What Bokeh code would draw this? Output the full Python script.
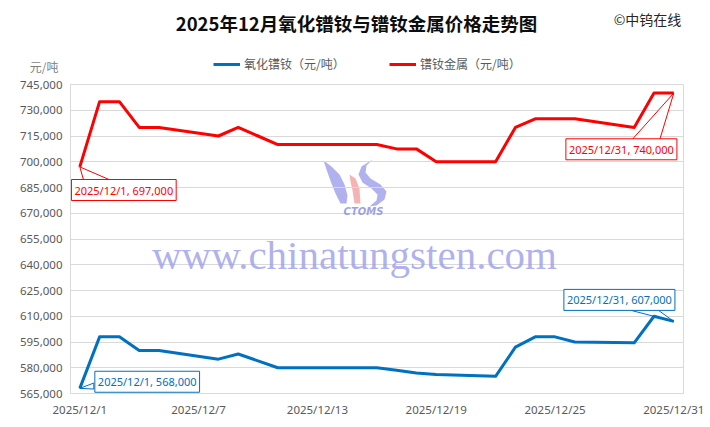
import pandas as pd
from bokeh.plotting import figure
from bokeh.layouts import column
from bokeh.models import (Range1d, FixedTicker, NumeralTickFormatter, Label,
                          Legend, LegendItem, LinearAxis)
from bokeh.embed import file_html
from bokeh.resources import INLINE

# ---------------- data ----------------
dates = ["2025-12-01", "2025-12-02", "2025-12-03", "2025-12-04", "2025-12-05",
         "2025-12-08", "2025-12-09", "2025-12-10", "2025-12-11", "2025-12-12",
         "2025-12-15", "2025-12-16", "2025-12-17", "2025-12-18", "2025-12-19",
         "2025-12-22", "2025-12-23", "2025-12-24", "2025-12-25", "2025-12-26",
         "2025-12-29", "2025-12-30", "2025-12-31"]
oxide = [568000, 598000, 598000, 590000, 590000,
         585000, 588000, 584000, 580000, 580000,
         580000, 580000, 578500, 577000, 576000,
         575000, 592000, 598000, 598000, 595000,
         594500, 610000, 607000]
metal = [697000, 735000, 735000, 720000, 720000,
         715000, 720000, 715000, 710000, 710000,
         710000, 710000, 707500, 707500, 700000,
         700000, 720000, 725000, 725000, 725000,
         720000, 740000, 740000]
series_names = ["氧化镨钕（元/吨）", "镨钕金属（元/吨）"]
x_tick_dates = ["2025-12-01", "2025-12-07", "2025-12-13", "2025-12-19",
                "2025-12-25", "2025-12-31"]
y_ticks = [565000, 580000, 595000, 610000, 625000, 640000, 655000,
           670000, 685000, 700000, 715000, 730000, 745000]
title_text = "2025年12月氧化镨钕与镨钕金属价格走势图"
copyright_text = "©中钨在线"
unit_text = "元/吨"
watermark_text = "www.chinatungsten.com"

BLUE = "#0070C0"
RED = "#FF0000"
GRID = "#D9D9D9"
TICK = "#595959"
CJK = "Noto Sans CJK SC"
NUM = "Noto Sans"

days = [d.day for d in pd.to_datetime(dates)]
tick_days = [d.day for d in pd.to_datetime(x_tick_dates)]
tick_labels = {d.day: f"{d.year}/{d.month}/{d.day}" for d in pd.to_datetime(x_tick_dates)}

# ---------------- geometry ----------------
W = 710
HH = 76                      # header height
H = 427 - HH                 # main figure height
FL, FR, FT, FB = 70, 27, 8, 34
FW, FH = W - FL - FR, H - FT - FB
X0, X1 = 0.53, 31.49
Y0, Y1 = y_ticks[0], y_ticks[-1]
TOP = HH + FT                # page y of frame top


def dx(page_x):
    return X0 + (page_x - FL) / FW * (X1 - X0)


def dy(page_y):
    return Y1 - (page_y - TOP) / FH * (Y1 - Y0)


def pxx(p):
    return p / FW * (X1 - X0)


def pxy(p):  # p positive = downwards on screen
    return -p / FH * (Y1 - Y0)


# ---------------- header figure (page-pixel coordinates) ----------------
hdr = figure(width=W, height=HH, output_backend="svg", toolbar_location=None,
             x_range=Range1d(FL, W - FR), y_range=Range1d(HH, 0),
             x_axis_type=None, y_axis_type=None, title=None,
             min_border_left=FL, min_border_right=FR,
             min_border_top=0, min_border_bottom=0)
hdr.grid.visible = False
hdr.outline_line_color = None
hdr.background_fill_color = "white"
hdr.border_fill_color = "white"

unit_axis = LinearAxis(ticker=FixedTicker(ticks=[69]),
                       major_label_overrides={69: unit_text},
                       axis_line_color=None, major_tick_line_color=None,
                       minor_tick_line_color=None, major_tick_in=0, major_tick_out=0,
                       major_label_standoff=12, major_label_text_font=CJK,
                       major_label_text_font_size="12px",
                       major_label_text_color="#7F7F7F")
hdr.add_layout(unit_axis, "left")

hdr.add_layout(Label(x=356, y=22, text=title_text, text_font=CJK,
                     text_font_size="18.5px", text_font_style="bold",
                     text_color="#0D0D0D", text_align="center", text_baseline="middle"))
hdr.add_layout(Label(x=647, y=18, text=copyright_text, text_font=CJK,
                     text_font_size="14px", text_color="#262626",
                     text_align="center", text_baseline="middle"))

# legend proxies: same series, far outside the header's ranges
proxies = [hdr.line(x=days, y=oxide, line_color=BLUE, line_width=3),
           hdr.line(x=days, y=metal, line_color=RED, line_width=3)]
for r, name, px in ((proxies[0], series_names[0], 213), (proxies[1], series_names[1], 389)):
    leg = Legend(items=[LegendItem(label=name, renderers=[r])],
                 location=(px - FL, HH - 64 - 8),
                 orientation="horizontal", margin=0, padding=0, spacing=0,
                 glyph_width=27, glyph_height=16, label_height=16,
                 label_standoff=4, label_text_font=CJK,
                 label_text_font_size="12px", label_text_color=TICK,
                 border_line_color=None, background_fill_alpha=0)
    hdr.add_layout(leg, "center")

# ---------------- main figure ----------------
p = figure(width=W, height=H, output_backend="svg", toolbar_location=None,
           x_range=Range1d(X0, X1), y_range=Range1d(Y0, Y1),
           min_border_left=FL, min_border_right=FR, min_border_top=FT,
           min_border_bottom=FB, title=None)
p.background_fill_color = "white"
p.border_fill_color = "white"
p.outline_line_color = GRID
p.outline_line_width = 1

p.xgrid.visible = False
p.ygrid.grid_line_color = GRID
p.ygrid.grid_line_width = 1
p.yaxis.ticker = FixedTicker(ticks=y_ticks)
p.yaxis.formatter = NumeralTickFormatter(format="0,0")
p.xaxis.ticker = FixedTicker(ticks=tick_days)
p.xaxis.major_label_overrides = tick_labels
for ax in (p.xaxis, p.yaxis):
    ax.axis_line_color = None
    ax.major_tick_line_color = None
    ax.minor_tick_line_color = None
    ax.major_tick_out = 0
    ax.major_tick_in = 0
    ax.major_label_text_font = NUM
    ax.major_label_text_font_size = "11.5px"
    ax.major_label_text_color = TICK
p.yaxis.major_label_standoff = 8
p.xaxis.major_label_standoff = 8

# ---------------- watermark (underlay) ----------------
logo_left = [(323, 160), (331, 166), (339, 174), (344, 184), (347, 195),
             (346, 203), (340, 203), (335, 193), (331, 183), (327, 172)]
logo_red = [(349, 174), (355, 178), (359, 188), (360, 203), (354, 203),
            (352, 190), (350, 181)]
logo_right = [(372, 159), (366, 165), (365, 172), (370, 178), (380, 184),
              (386, 191), (384, 199), (376, 205), (369, 206), (376, 200),
              (377, 194), (371, 188), (362, 182), (358, 174), (361, 166)]
for shape, col in ((logo_left, "#9C9EEA"), (logo_red, "#F4A0A0"), (logo_right, "#9C9EEA")):
    p.patch([dx(a) for a, b in shape], [dy(b) for a, b in shape],
            fill_color=col, fill_alpha=0.8, line_color=None, level="underlay")
p.add_layout(Label(x=dx(363), y=dy(211), text="CTOMS", text_font="DejaVu Sans",
                   text_font_size="10px", text_font_style="bold italic",
                   text_color="#8C8FE0", text_alpha=0.85, text_align="center",
                   text_baseline="middle", level="underlay"))
p.add_layout(Label(x=dx(354), y=dy(254), text=watermark_text,
                   text_font="Liberation Serif", text_font_size="41px",
                   text_color="#9A9DEA", text_alpha=0.8, text_align="center",
                   text_baseline="alphabetic", level="underlay"))

# ---------------- callout wedges (under lines) ----------------
first_i, last_i = 0, len(days) - 1
wedges = [
    (days[first_i], metal[first_i], [(4, 14), (32.4, 14)], RED),
    (days[last_i], metal[last_i], [(-41.6, 46.4), (-14, 46.4)], RED),
    (days[first_i], oxide[first_i], [(14, -5.3), (14, 0.7)], BLUE),
    (days[last_i], oxide[last_i], [(-46.6, -12), (-16.6, -12)], BLUE),
]
for xv, yv, offs, col in wedges:
    xs = [xv] + [xv + pxx(o[0]) for o in offs]
    ys = [yv] + [yv + pxy(o[1]) for o in offs]
    p.patch(xs, ys, fill_color="white", line_color=col, line_width=1)

# ---------------- lines ----------------
r_ox = p.line(days, oxide, line_color=BLUE, line_width=3, line_join="round")
r_me = p.line(days, metal, line_color=RED, line_width=3, line_join="round")

# ---------------- callout boxes ----------------
boxes = [
    (days[first_i], metal[first_i], 44, -23.1, RED),
    (days[last_i], metal[last_i], -52.4, -56.2, RED),
    (days[first_i], oxide[first_i], 67.4, 6.6, BLUE),
    (days[last_i], oxide[last_i], -54.4, 21.5, BLUE),
]
for xv, yv, ox, oy, col in boxes:
    p.add_layout(Label(x=xv, y=yv, x_offset=ox, y_offset=oy,
                       text=f"2025/12/{xv}, {yv:,}", text_font=NUM,
                       text_font_size="11px", text_color=col,
                       text_align="center", text_baseline="middle",
                       background_fill_color="white", border_line_color=col,
                       border_line_width=1, padding=3))

layout = column(hdr, p, spacing=0)
open("out.html", "w").write(file_html(layout, INLINE))
